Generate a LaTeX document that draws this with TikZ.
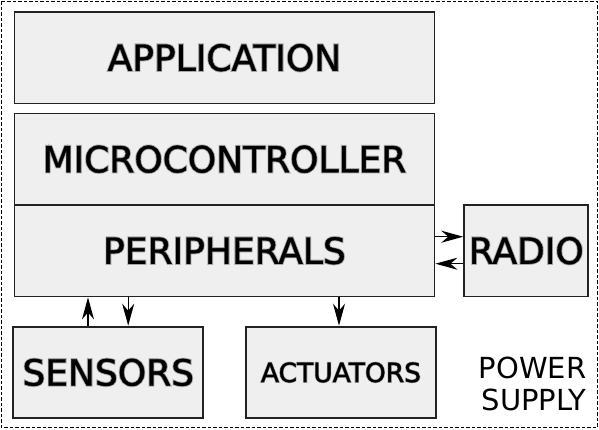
\documentclass[tikz,border=0pt]{standalone}
\usepackage{fontspec}
\setmainfont{DejaVu Sans}
\usetikzlibrary{arrows.meta}
\definecolor{boxfill}{HTML}{EFEFEF}
\definecolor{boxline}{HTML}{222222}
\definecolor{halo}{HTML}{A8A8A8}
\newcommand{\halotext}[1]{\makebox[0pt][l]{\color{halo}\addfontfeature{FakeBold=6}#1}\addfontfeature{FakeBold=1}#1}
\begin{document}
\begin{tikzpicture}[x=1pt,y=-1pt,
  box/.style={draw=boxline, fill=boxfill, line width=1.9pt, anchor=north west, inner sep=0pt},
  bigtxt/.style={font=\fontsize{36}{40}\selectfont},
  smalltxt/.style={font=\fontsize{26.5}{30}\selectfont},
  arr/.style={-{Stealth[length=22pt,width=12pt,inset=7pt]}, line width=1.4pt}]
\useasboundingbox (0,0) rectangle (599,429);
\draw[dash pattern=on 3.5pt off 2pt, line width=1.3pt] (1.2,1.2) rectangle (597.3,427.3);

\node[box, bigtxt, minimum width=420pt, minimum height=91.5pt] (app) at (13.5,11) {\raisebox{-4.5pt}{\halotext{APPLICATION}}};
\node[box, bigtxt, minimum width=420pt, minimum height=91.5pt] (mcu) at (13.5,112.5) {\halotext{MICROCONTROLLER}};
\node[box, bigtxt, minimum width=420pt, minimum height=91.5pt] (per) at (13.5,204) {\raisebox{-1.5pt}{\halotext{PERIPHERALS}}};
\node[box, bigtxt, minimum width=124pt, minimum height=91.5pt] (radio) at (463.3,204) {\halotext{RADIO}};
\node[box, bigtxt, minimum width=190pt, minimum height=91.5pt] (sens) at (12.3,325.7) {\halotext{SENSORS}};
\node[box, smalltxt, minimum width=190pt, minimum height=91.5pt] (act) at (245,325.7) {\halotext{ACTUATORS}};

\node[anchor=south east, inner sep=0pt, align=right, font=\fontsize{29}{32}\selectfont] (pwr) at (586.5,411) {POWER\\SUPPLY};

\draw[arr] ([xshift=75.7pt]sens.north west) -- ([xshift=75.7pt]sens.north west |- per.south);
\draw[arr] ([xshift=114.7pt]per.south west) -- ([xshift=114.7pt]per.south west |- sens.north);
\draw[arr] ([xshift=325.5pt]per.south west) -- ([xshift=325.5pt]per.south west |- act.north);
\draw[arr] ([yshift=14pt]per.east) -- ([yshift=14pt]per.east -| radio.west);
\draw[arr] ([yshift=-13pt]radio.west) -- ([yshift=-13pt]radio.west -| per.east);
\end{tikzpicture}
\end{document}
